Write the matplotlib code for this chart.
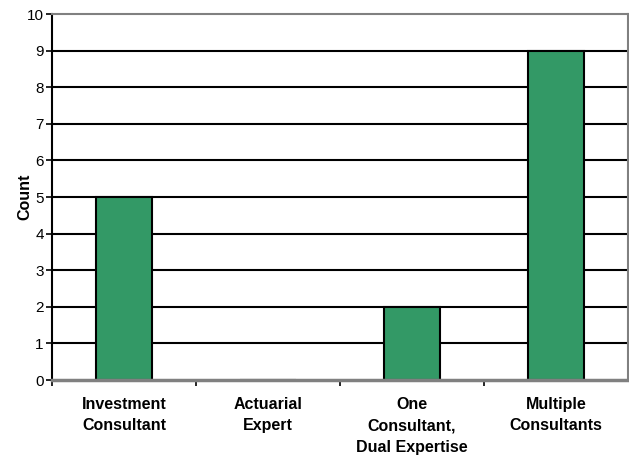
import matplotlib
matplotlib.use("Agg")
import matplotlib.pyplot as plt
import numpy as np

categories = ["Investment\nConsultant", "Actuarial\nExpert",
              "One\nConsultant,\nDual Expertise", "Multiple\nConsultants"]
counts = [5, 0, 2, 9]
y_ticks = list(range(0, 11))

plt.rcParams['font.family'] = ['Liberation Sans', 'DejaVu Sans']

fig = plt.figure(figsize=(6.29, 4.55), dpi=100)
ax = fig.add_axes([0.0827, 0.1648, 0.9157, 0.8042])

x = np.arange(len(categories))
ax.bar(x, counts, width=0.39, color='#339966', edgecolor='black', linewidth=1.5, zorder=2)

ax.set_xlim(-0.5, len(categories) - 0.5)
ax.set_ylim(0, 10)
ax.set_yticks(y_ticks)
ax.tick_params(axis='y', labelsize=11, length=4, width=1.2, direction='out', pad=2)

# gridlines
for v in y_ticks[1:-1]:
    ax.axhline(v, color='black', linewidth=1.5, zorder=1)

# category labels at centres, tick marks at boundaries
ax.set_xticks(x)
ax.set_xticklabels(categories, fontsize=11.5, fontweight='bold', linespacing=1.55)
ax.tick_params(axis='x', length=0, pad=12)
ax.set_xticks(np.arange(-0.5, len(categories) - 0.5), minor=True)
ax.tick_params(axis='x', which='minor', length=4, width=1.2, direction='out')

ax.set_ylabel("Count", fontsize=11.5, fontweight='bold', labelpad=-4)

ax.spines['left'].set_color('black')
ax.spines['left'].set_linewidth(1.5)
for s in ['top', 'right']:
    ax.spines[s].set_color('#808080')
    ax.spines[s].set_linewidth(1.5)
ax.spines['bottom'].set_color('#808080')
ax.spines['bottom'].set_linewidth(2.5)
ax.spines['bottom'].set_zorder(3)

fig.savefig("out.png", dpi=100)
